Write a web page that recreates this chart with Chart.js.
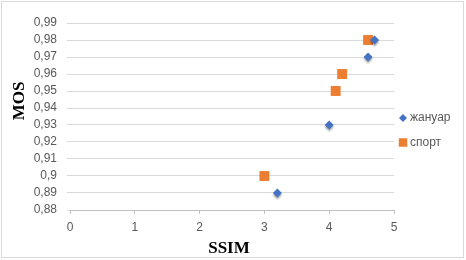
<!DOCTYPE html>
<html>
<head>
<meta charset="utf-8">
<script src="https://cdn.jsdelivr.net/npm/chart.js@4/dist/chart.umd.min.js"></script>
<style>
  body { margin: 0; background: #fff; }
  canvas { display: block; }
</style>
</head>
<body>
<canvas id="mosChart" width="466" height="260"></canvas>
<script>
// Dados do gráfico
const seriesNames = ['жануар', 'спорт'];
const zhanuarSsim = [3.2, 4.0, 4.6, 4.7];
const zhanuarMos = [0.89, 0.93, 0.97, 0.98];
const sportSsim = [3.0, 4.1, 4.2, 4.6];
const sportMos = [0.90, 0.95, 0.96, 0.98];
const xTicks = [0, 1, 2, 3, 4, 5];
const yTicks = [0.88, 0.89, 0.90, 0.91, 0.92, 0.93, 0.94, 0.95, 0.96, 0.97, 0.98, 0.99];
const xTitle = 'SSIM';
const yTitle = 'MOS';

const toPoints = (xs, ys) => xs.map((x, i) => ({ x: x, y: ys[i] }));
const labelFont = { family: '"Liberation Sans", Arial, sans-serif', size: 12 };
const titleFont = 'bold 17px "Liberation Serif", "Times New Roman", serif';

// Sombra dos losangos + legenda + títulos + moldura
const excelLook = {
  id: 'excelLook',
  beforeDatasetDraw(chart, args) {
    if (args.index === 0) {
      const ctx = chart.ctx;
      ctx.save();
      ctx.shadowColor = 'rgba(0,0,0,0.35)';
      ctx.shadowOffsetY = 2;
      ctx.shadowBlur = 2;
    }
  },
  afterDatasetDraw(chart, args) {
    if (args.index === 0) chart.ctx.restore();
  },
  afterDraw(chart) {
    const ctx = chart.ctx;
    const area = chart.chartArea;
    ctx.save();

    // Legenda
    ctx.font = labelFont.size + 'px ' + labelFont.family;
    ctx.textBaseline = 'middle';
    chart.data.datasets.forEach((ds, i) => {
      const y = 118 + i * 24.5;
      const x = area.right + 9;
      ctx.fillStyle = ds.backgroundColor;
      Chart.helpers.drawPoint(ctx, {
        pointStyle: ds.pointStyle,
        radius: ds.pointStyle === 'rect' ? 6 : 4,
        rotation: 0,
        borderWidth: 0
      }, x, y);
      ctx.fillStyle = '#595959';
      ctx.fillText(ds.label, x + 7, y);
    });

    // Títulos dos eixos
    ctx.fillStyle = '#000';
    ctx.font = titleFont;
    ctx.textAlign = 'center';
    ctx.fillText(xTitle, (area.left + area.right) / 2 - 3, 249);
    ctx.translate(20, 101);
    ctx.rotate(-Math.PI / 2);
    ctx.fillText(yTitle, 0, 0);
    ctx.setTransform(1, 0, 0, 1, 0, 0);

    // Moldura
    ctx.strokeStyle = '#d9d9d9';
    ctx.lineWidth = 1;
    ctx.strokeRect(1.5, 1.5, 462, 256);
    ctx.restore();
  }
};

new Chart(document.getElementById('mosChart').getContext('2d'), {
  type: 'scatter',
  data: {
    datasets: [{
      label: seriesNames[0],
      data: toPoints(zhanuarSsim, zhanuarMos),
      pointStyle: 'rectRot',
      pointRadius: 4.5,
      pointHoverRadius: 4.5,
      backgroundColor: '#4472c4',
      borderColor: '#4472c4',
      borderWidth: 0
    }, {
      label: seriesNames[1],
      data: toPoints(sportSsim, sportMos),
      pointStyle: 'rect',
      pointRadius: 7,
      pointHoverRadius: 7,
      backgroundColor: '#ed7d31',
      borderColor: '#ed7d31',
      borderWidth: 0
    }]
  },
  options: {
    responsive: false,
    animation: false,
    layout: { padding: { left: 0, right: 72, top: 23, bottom: 0 } },
    plugins: {
      legend: { display: false },
      tooltip: { enabled: false }
    },
    scales: {
      x: {
        min: xTicks[0],
        max: xTicks[xTicks.length - 1],
        afterBuildTicks: (scale) => { scale.ticks = xTicks.map(v => ({ value: v })); },
        afterFit: (scale) => { scale.height = 50; },
        grid: { drawOnChartArea: false, drawTicks: true, tickLength: 4, color: '#bfbfbf' },
        border: { display: true, color: '#bfbfbf' },
        ticks: { color: '#595959', font: labelFont, padding: 6, maxRotation: 0, autoSkip: false }
      },
      y: {
        min: yTicks[0],
        max: yTicks[yTicks.length - 1],
        afterBuildTicks: (scale) => { scale.ticks = yTicks.map(v => ({ value: v })); },
        afterFit: (scale) => { scale.width = 70; },
        grid: { color: '#d9d9d9', tickLength: 3 },
        border: { display: false },
        ticks: {
          color: '#595959',
          font: labelFont,
          padding: 10,
          autoSkip: false,
          callback: (v) => String(Math.round(v * 100) / 100).replace('.', ',')
        }
      }
    }
  },
  plugins: [excelLook]
});
</script>
</body>
</html>
